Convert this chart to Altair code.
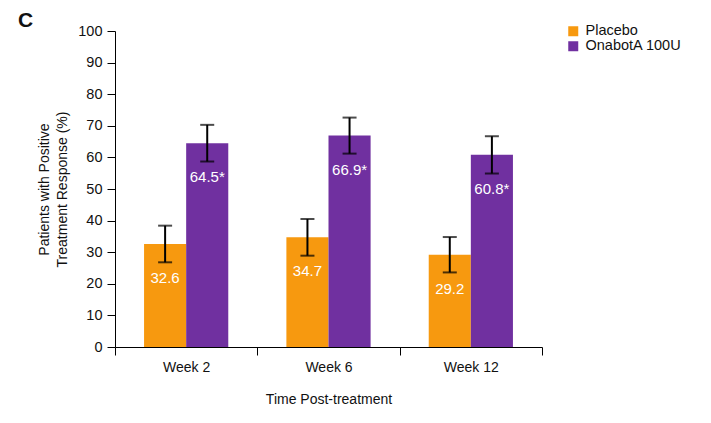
import altair as alt
import pandas as pd

weeks = ["Week 2", "Week 6", "Week 12"]
groups = ["Placebo", "OnabotA 100U"]
placebo = [32.6, 34.7, 29.2]
onabot = [64.5, 66.9, 60.8]
placebo_err = [5.8, 5.8, 5.6]
onabot_err = [5.8, 5.7, 5.9]
placebo_lbl = ["32.6", "34.7", "29.2"]
onabot_lbl = ["64.5*", "66.9*", "60.8*"]
y_ticks = [0, 10, 20, 30, 40, 50, 60, 70, 80, 90, 100]

rows = []
for i, w in enumerate(weeks):
    rows.append({"week": w, "group": groups[0], "value": placebo[i],
                 "lo": placebo[i] - placebo_err[i], "hi": placebo[i] + placebo_err[i], "label": placebo_lbl[i]})
    rows.append({"week": w, "group": groups[1], "value": onabot[i],
                 "lo": onabot[i] - onabot_err[i], "hi": onabot[i] + onabot_err[i], "label": onabot_lbl[i]})
df = pd.DataFrame(rows)

FONT = "Liberation Sans"

x_axis = alt.Axis(labelAngle=0, tickBand="extent", tickSize=8, tickColor="black",
                  domainColor="black", labelFontSize=14, labelColor="#111",
                  labelPadding=5, titleFontSize=14, titleFontWeight="normal",
                  titleColor="#111", titlePadding=18, labelFont=FONT, titleFont=FONT)
x = alt.X("week:N", sort=weeks, title="Time Post-treatment",
          scale=alt.Scale(paddingInner=0, paddingOuter=0), axis=x_axis)
xo = alt.XOffset("group:N", sort=groups, scale=alt.Scale(paddingInner=0, paddingOuter=0.69))
yscale = alt.Scale(domain=[0, 100], nice=False)
ytitle = ["Patients with Positive", "Treatment Response (%)"]
y_axis = alt.Axis(values=y_ticks, labelOverlap=False, grid=False,
                  tickSize=8, tickColor="black",
                  domainColor="black", labelFontSize=14.5, labelColor="#111", labelPadding=5,
                  titleFontSize=14, titleFontWeight="normal", titleColor="#111",
                  titlePadding=8, titleLineHeight=18, labelFont=FONT, titleFont=FONT)


def Y(field):
    return alt.Y(field, scale=yscale, title=ytitle, axis=y_axis)


color = alt.Color("group:N", sort=groups,
                  scale=alt.Scale(domain=groups, range=["#F7990F", "#7030A0"]),
                  legend=alt.Legend(title=None, orient="none", legendX=451, legendY=-7,
                                    symbolType="square", symbolSize=100, symbolStrokeWidth=0,
                                    labelFontSize=14.5, labelFont=FONT, labelColor="#111",
                                    rowPadding=0, symbolOffset=0, labelOffset=5))

base = alt.Chart(df)
bars = base.mark_bar().encode(x=x, xOffset=xo, y=Y("value:Q"), color=color)
rules = base.mark_rule(color="black", strokeWidth=2).encode(
    x=x, xOffset=xo, y=Y("lo:Q"), y2="hi:Q")
caps_hi = base.mark_tick(color="black", thickness=2, size=14, orient="horizontal").encode(
    x=x, xOffset=xo, y=Y("hi:Q"))
caps_lo = base.mark_tick(color="black", thickness=2, size=14, orient="horizontal").encode(
    x=x, xOffset=xo, y=Y("lo:Q"))
labels = base.mark_text(color="white", fontSize=15, font=FONT, baseline="middle", dy=34).encode(
    x=x, xOffset=xo, y=Y("value:Q"), text="label:N")
letter = alt.Chart(pd.DataFrame({"t": ["C"]})).mark_text(
    fontSize=21, fontWeight="bold", font=FONT, align="left", baseline="middle", color="#111"
).encode(x=alt.value(-97), y=alt.value(-10), text="t:N")

chart = alt.layer(bars, rules, caps_hi, caps_lo, labels, letter).properties(
    width=427, height=316,
    autosize=alt.AutoSizeParams(type="none"),
    padding={"left": 115, "top": 31, "right": 169, "bottom": 76},
).configure_view(stroke=None)

chart.save("out.html", embed_options={"renderer": "svg", "actions": False})
